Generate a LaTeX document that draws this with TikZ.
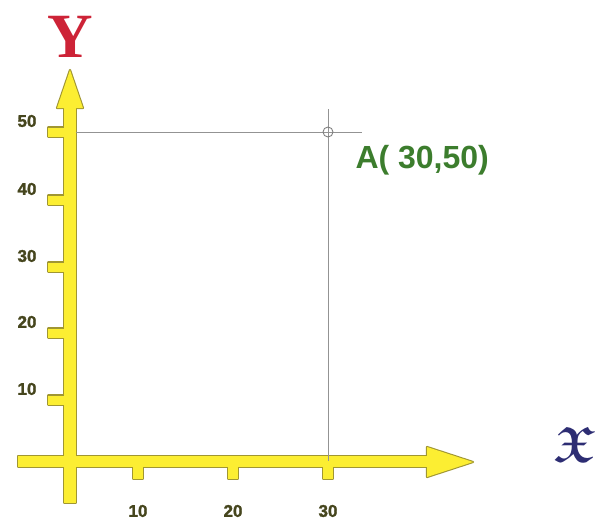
\documentclass[tikz,border=0pt]{standalone}
\usepackage{fontspec}
\usepackage{amsmath}
\usepackage{amssymb}
\usepackage{xcolor}
\setmainfont{Liberation Serif}
\setsansfont{Liberation Sans}
\newfontfamily\heavysans[FakeBold=1.6]{Liberation Sans Bold}

\definecolor{axisyellow}{RGB}{252,238,50}
\definecolor{axisedge}{RGB}{160,150,50}
\definecolor{ticktext}{RGB}{70,70,30}
\definecolor{ptgreen}{RGB}{60,125,45}
\definecolor{ylabelred}{RGB}{205,35,55}
\definecolor{xlabelblue}{RGB}{45,45,115}

\tikzset{
  ticklabel/.style={font=\heavysans\fontsize{17}{17}\selectfont, text=ticktext, inner sep=0pt},
  guide/.style={draw=gray!85, line width=0.9pt},
  axisline/.style={draw=axisedge, line width=2.2pt, line join=round},
  axisfill/.style={fill=axisyellow},
}

% yellow axes: shafts, arrow heads and tick stubs
\newcommand{\axisshapes}[1]{%
  \path[#1] (64,503) rectangle (76,108);
  \path[#1] (57,108) -- (70,70) -- (83,108) -- cycle;
  \path[#1] (18,456) rectangle (427,467);
  \path[#1] (427,447) -- (473,462) -- (427,477) -- cycle;
  \foreach \yy in {132,200,267,333,400}
    \path[#1] (48,\yy-4.5) rectangle (64,\yy+4.5);
  \foreach \xx in {138,233,328}
    \path[#1] (\xx-5,467) rectangle (\xx+5,479);
}

\begin{document}
\begin{tikzpicture}[x=1pt, y=-1pt]
  \useasboundingbox (0,0) rectangle (597,520);

  % --- axes -------------------------------------------------------------
  \axisshapes{axisline}
  \axisshapes{axisfill}

  % --- point A and its guide lines --------------------------------------
  \coordinate (O) at (70,461);
  \coordinate (A) at (328,132);
  \coordinate (hStart) at (76,132);
  \coordinate (hEnd) at (362,132);
  \coordinate (vTop) at (328,109);
  \draw[guide] (hStart) -- (hEnd);
  \draw[guide] (vTop) -- (A |- O);
  \node[circle, draw=gray, line width=0.9pt, minimum size=10pt, inner sep=0pt] (Apt) at (A) {};
  \node[anchor=west, font=\sffamily\bfseries\fontsize{32}{32}\selectfont, text=ptgreen] (Alabel) at (352,160) {A( 30,50)};

  % --- tick labels ------------------------------------------------------
  \foreach \v/\yy in {10/400,20/333,30/267,40/200,50/132}
    \node[ticklabel] (ylab\v) at (27,\yy-11) {\v};
  \foreach \v/\xx in {10/138,20/233,30/328}
    \node[ticklabel] (xlab\v) at (\xx,511) {\v};

  % --- axis names -------------------------------------------------------
  \node[font=\bfseries\fontsize{63}{63}\selectfont, text=ylabelred, inner sep=0pt] (ylabel) at (70,37) {Y};
  \node[anchor=east, text=xlabelblue, inner sep=0pt] (xlabel) at (596,444) {\fontsize{50}{50}\selectfont$\boldsymbol{\mathfrak{X}}$};
\end{tikzpicture}
\end{document}
